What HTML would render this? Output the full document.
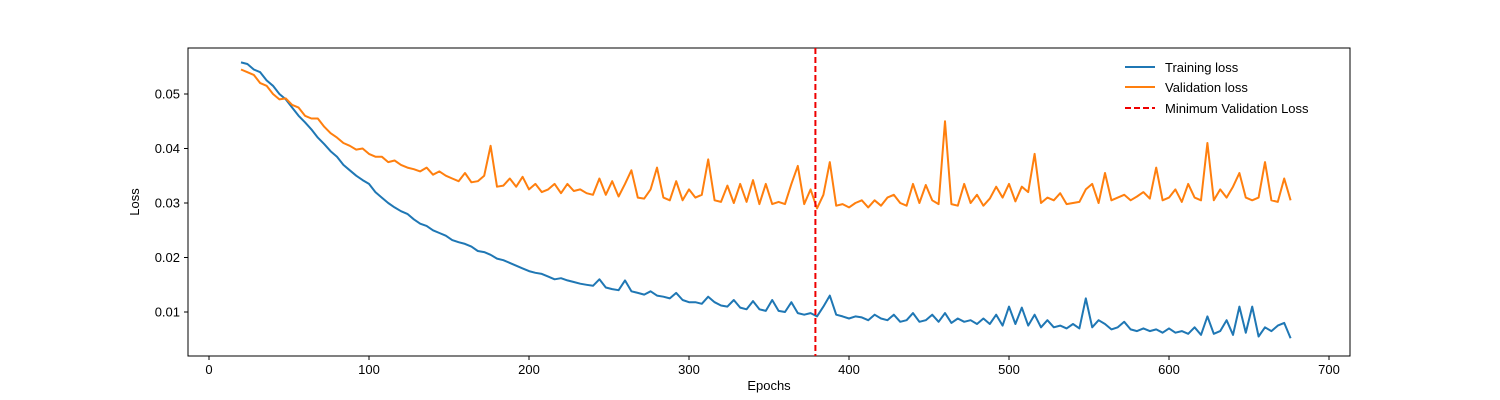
<!DOCTYPE html>
<html><head><meta charset="utf-8"><style>
html,body{margin:0;padding:0;background:#fff;}
svg{display:block;font-family:"Liberation Sans","DejaVu Sans",sans-serif;}
</style></head><body>
<svg id="chart" width="1500" height="400" viewBox="0 0 1500 400" xmlns="http://www.w3.org/2000/svg">
<rect x="188" y="48" width="1162" height="308" fill="#fff" stroke="#000" stroke-width="1"/>
<g id="xticks"></g>
<g id="yticks"></g>
<g id="series"></g>
<text x="769" y="390" font-size="13" text-anchor="middle">Epochs</text>
<text x="139" y="202" font-size="13" text-anchor="middle" transform="rotate(-90 139 202)">Loss</text>
<g>
<line x1="1125" y1="67" x2="1155" y2="67" stroke="#1f77b4" stroke-width="2"/>
<text x="1165" y="72" font-size="13">Training loss</text>
<line x1="1125" y1="87" x2="1155" y2="87" stroke="#ff7f0e" stroke-width="2"/>
<text x="1165" y="92" font-size="13">Validation loss</text>
<line x1="1125" y1="108" x2="1155" y2="108" stroke="#e00" stroke-width="2" stroke-dasharray="6,3"/>
<text x="1165" y="113" font-size="13">Minimum Validation Loss</text>
</g>
</svg>
<script>
const startEpoch = 20;
const epochStep = 4;
const validationLoss = [.0545,.054,.0535,.052,.0515,.050,.049,.0492,.048,.0475,.046,.0455,.0455,.044,.0428,.042,.041,.0405,.0398,.040,.039,.0385,.0385,.0375,.0378,.037,.0365,.0362,.0358,.0365,.0352,.0358,.035,.0345,.034,.0355,.0338,.034,.035,.0405,.033,.0332,.0345,.033,.0348,.0325,.0335,.032,.0325,.0335,.0318,.0335,.0322,.0325,.0318,.0315,.0345,.0315,.034,.0312,.0335,.036,.031,.0308,.0325,.0365,.031,.0305,.034,.0305,.0325,.031,.0315,.038,.0305,.0302,.0332,.030,.0335,.0302,.0342,.0298,.0335,.0298,.0302,.0298,.0335,.0368,.0298,.0325,.029,.0315,.0375,.0295,.0298,.0292,.030,.0305,.0292,.0305,.0295,.031,.0315,.030,.0295,.0335,.030,.0333,.0305,.0298,.045,.0298,.0295,.0335,.030,.0315,.0295,.0308,.033,.031,.0335,.0303,.033,.032,.039,.030,.031,.0305,.0318,.0298,.030,.0302,.0325,.0335,.030,.0355,.0305,.031,.0315,.0305,.0312,.032,.0308,.0365,.0305,.031,.0325,.0302,.0335,.031,.0305,.041,.0305,.0325,.031,.033,.0355,.031,.0305,.031,.0375,.0305,.0302,.0345,.0305];
const trainingLoss = [.0558,.0555,.0545,.054,.0525,.0515,.050,.049,.0475,.046,.0448,.0435,.042,.0408,.0395,.0385,.037,.036,.035,.0342,.0335,.032,.031,.030,.0292,.0285,.028,.027,.0262,.0258,.025,.0245,.024,.0232,.0228,.0225,.022,.0212,.021,.0205,.0198,.0195,.019,.0185,.018,.0175,.0172,.017,.0165,.016,.0162,.0158,.0155,.0152,.015,.0148,.016,.0145,.0142,.014,.0158,.0138,.0135,.0132,.0138,.013,.0128,.0125,.0135,.0122,.0118,.0118,.0115,.0128,.0118,.0112,.011,.0122,.0108,.0105,.012,.0105,.0102,.0122,.0102,.010,.0118,.0098,.0095,.0098,.0092,.011,.013,.0095,.0092,.0088,.0092,.009,.0085,.0095,.0088,.0085,.0095,.0082,.0085,.0098,.0082,.0085,.0095,.0082,.0098,.008,.0088,.0082,.0085,.0078,.0088,.0078,.0095,.0075,.011,.0078,.0108,.0075,.0095,.0072,.0085,.0072,.0075,.007,.0078,.007,.0125,.0072,.0085,.0078,.0068,.0072,.0082,.0068,.0065,.007,.0065,.0068,.0062,.007,.0062,.0065,.006,.0072,.0058,.0092,.006,.0065,.0085,.0058,.011,.0062,.011,.0055,.0072,.0065,.0075,.008,.0052];
const minValEpoch = 379;
const xTickValues = [0,100,200,300,400,500,600,700];
const yTickValues = [0.01,0.02,0.03,0.04,0.05];
const yTickLabels = ["0.01","0.02","0.03","0.04","0.05"];

const NS="http://www.w3.org/2000/svg";
function xScale(e){return 209 + e*1.6;}
function yScale(v){return 366.5 - v*5450;}
const xt=document.getElementById('xticks'), yt=document.getElementById('yticks'), sg=document.getElementById('series');
xTickValues.forEach(v=>{
  const x=xScale(v);
  const l=document.createElementNS(NS,'line');
  l.setAttribute('x1',x);l.setAttribute('x2',x);l.setAttribute('y1',356);l.setAttribute('y2',360);l.setAttribute('stroke','#000');
  
  
  xt.appendChild(l);
  const t=document.createElementNS(NS,'text');
  t.setAttribute('x',x);t.setAttribute('y',374);t.setAttribute('font-size','13');t.setAttribute('text-anchor','middle');t.textContent=v;
  
  
  xt.appendChild(t);
});
yTickValues.forEach((v,i)=>{
  const y=yScale(v);
  const l=document.createElementNS(NS,'line');
  l.setAttribute('x1',184);l.setAttribute('x2',188);l.setAttribute('y1',y);l.setAttribute('y2',y);l.setAttribute('stroke','#000');
  
  
  yt.appendChild(l);
  const t=document.createElementNS(NS,'text');
  t.setAttribute('x',180);t.setAttribute('y',y+4.5);t.setAttribute('font-size','13');t.setAttribute('text-anchor','end');t.textContent=yTickLabels[i];
  
  
  yt.appendChild(t);
});
function drawLine(vals,color,name){
  const d=vals.map((v,i)=>(i?'L':'M')+xScale(startEpoch+i*epochStep).toFixed(1)+','+yScale(v).toFixed(1)).join('');
  const p=document.createElementNS(NS,'path');
  p.setAttribute('d',d);p.setAttribute('fill','none');p.setAttribute('stroke',color);p.setAttribute('stroke-width','2');p.setAttribute('stroke-linejoin','round');
  
  
  sg.appendChild(p);
}
drawLine(trainingLoss,'#1f77b4','training-loss-line');
drawLine(validationLoss,'#ff7f0e','validation-loss-line');
const ml=document.createElementNS(NS,'line');
const mx=xScale(minValEpoch);
ml.setAttribute('x1',mx);ml.setAttribute('x2',mx);ml.setAttribute('y1',48);ml.setAttribute('y2',356);
ml.setAttribute('stroke','#e00');ml.setAttribute('stroke-width','2');ml.setAttribute('stroke-dasharray','6,3');


sg.appendChild(ml);
</script>
</body></html>
